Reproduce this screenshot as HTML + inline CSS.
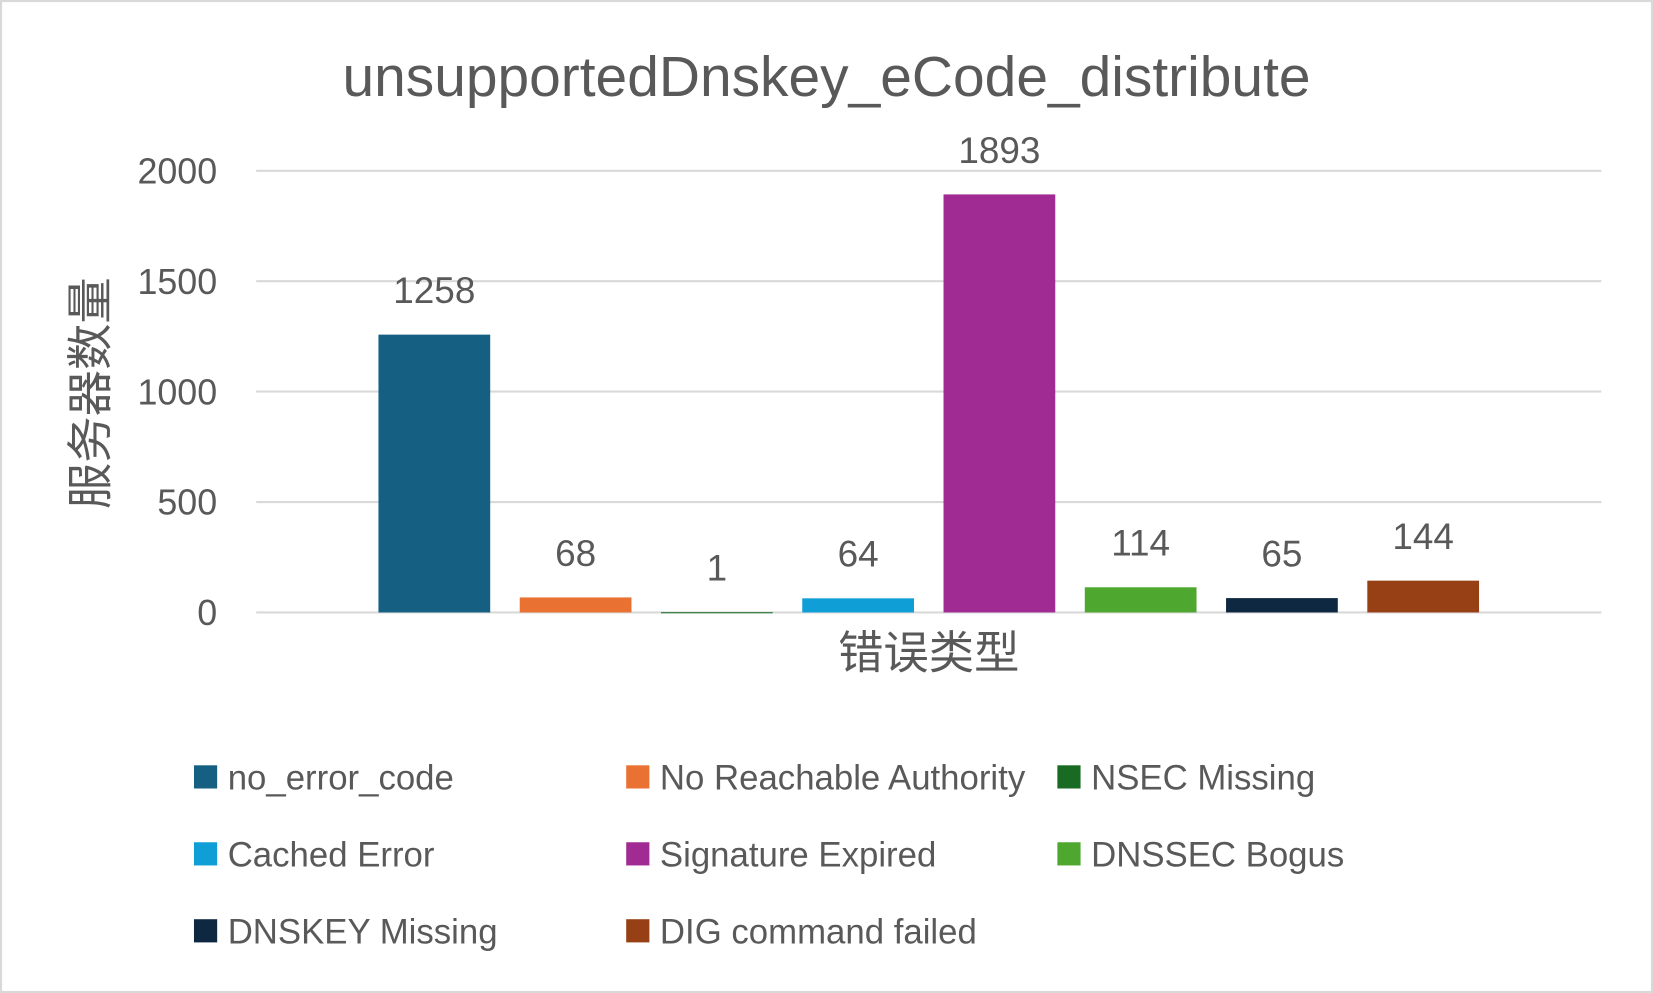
<!DOCTYPE html>
<html><head><meta charset="utf-8"><style>
html,body{margin:0;padding:0;background:#fff;width:1653px;height:993px;overflow:hidden}
svg{display:block}
text{font-family:"Liberation Sans","Noto Sans CJK SC",sans-serif;fill:#595959}
</style></head><body>
<svg id="chart" width="1653" height="993" viewBox="0 0 1568 942" preserveAspectRatio="none" xmlns="http://www.w3.org/2000/svg">
<rect x="1" y="1" width="1566" height="940" fill="#fff" stroke="#d9d9d9" stroke-width="2"/>
<text x="784" y="91" font-size="54" text-anchor="middle">unsupportedDnskey_eCode_distribute</text>
<g id="grid"></g><g id="bars"></g><g id="legend"></g>
<text transform="translate(101,373) rotate(-90)" font-size="44" text-anchor="middle">服务器数量</text>
<text x="881" y="634" font-size="43" text-anchor="middle">错误类型</text>
</svg>
<script>
const categories=["no_error_code","No Reachable Authority","NSEC Missing","Cached Error","Signature Expired","DNSSEC Bogus","DNSKEY Missing","DIG command failed"];
const values=[1258,68,1,64,1893,114,65,144];
const colors=["#156082","#E97132","#196B24","#0F9ED5","#A02B93","#4EA72E","#0E2841","#974016"];
const ticks=[0,500,1000,1500,2000];
const NS="http://www.w3.org/2000/svg";
const x0=243,x1=1519,yTop=162,yBot=581,vmax=2000;
const y=v=>yBot-(v/vmax)*(yBot-yTop);
const slot=134,bw=106,mid=(x0+x1)/2;
const cx=i=>mid+(i-(values.length-1)/2)*slot;
function mk(tag,attrs,parent){const e=document.createElementNS(NS,tag);for(const k in attrs)e.setAttribute(k,attrs[k]);parent.appendChild(e);return e;}
const grid=document.getElementById('grid');
ticks.forEach(t=>{
 const l=mk('line',{x1:x0,x2:x1,y1:y(t),y2:y(t),stroke:'#d9d9d9','stroke-width':2},grid);
 
 
 const tx=mk('text',{x:206,y:y(t)+12,'font-size':34,'text-anchor':'end'},grid);
 tx.textContent=t;
 
 
});
const bars=document.getElementById('bars');
values.forEach((v,i)=>{
 const r=mk('rect',{x:cx(i)-bw/2,y:y(v),width:bw,height:Math.max(yBot-y(v),1),fill:colors[i]},bars);
 
 
 const t=mk('text',{x:cx(i),y:y(v)-30,'font-size':35,'text-anchor':'middle',fill:'#404040'},bars);
 t.textContent=v;
 
 
});
const lg=document.getElementById('legend');
const colX=[184,594,1003],rowY=[737,810,883];
categories.forEach((c,i)=>{
 const g=mk('g',{},lg);
 
 
 const xx=colX[i%3],yy=rowY[Math.floor(i/3)];
 mk('rect',{x:xx,y:yy-11,width:22,height:22,fill:colors[i]},g);
 const t=mk('text',{x:xx+32,y:yy+12,'font-size':33},g);
 t.textContent=c;
});
</script>
</body></html>
